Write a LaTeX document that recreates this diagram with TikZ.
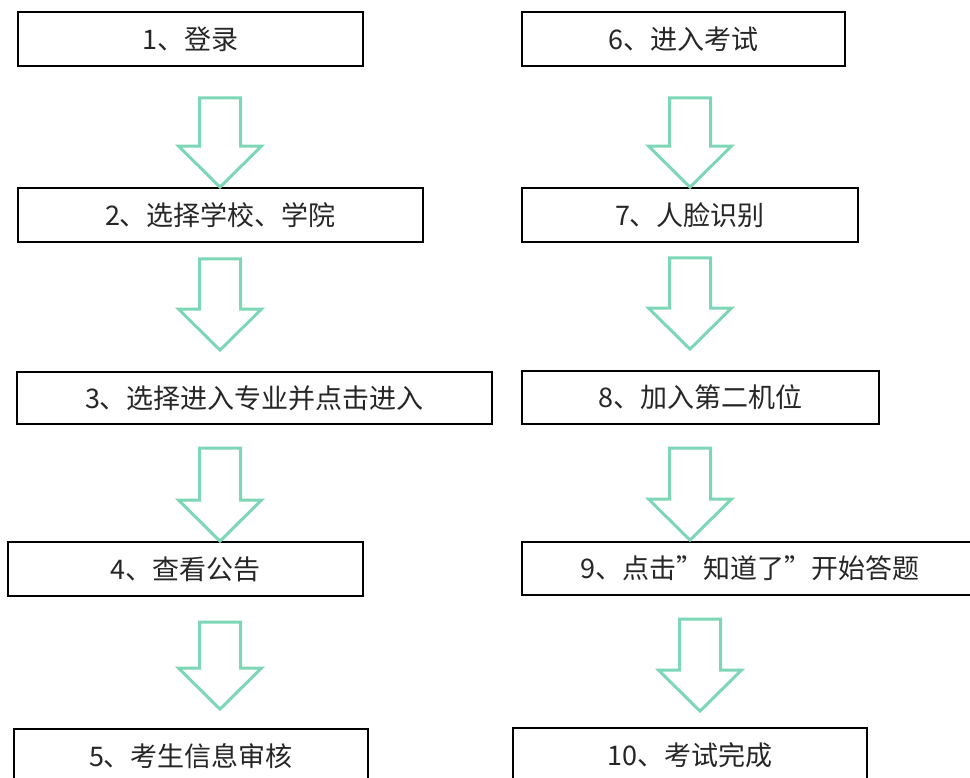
\documentclass[tikz,border=0pt]{standalone}
\usepackage{fontspec}
\newfontfamily\cjk{Noto Sans CJK SC}
\usetikzlibrary{calc}

\definecolor{mint}{RGB}{125,215,182}

\tikzset{
  stepbox/.style={draw=black, line width=1.8pt, fill=white, inner sep=0pt,
    minimum height=54pt, text=black!85, font=\cjk\fontsize{27}{30}\selectfont},
  flowarrow/.style={draw=mint, line width=3pt, line join=miter}
}

% hollow down arrow: start point, tip (only its y is used)
\newcommand{\hollowarrow}[2]{%
  \draw[flowarrow] let \p1=(#1), \p2=(#2) in
    (\x1-20.5pt,\y1) -- (\x1+20.5pt,\y1) -- (\x1+20.5pt,\y2+41pt)
    -- (\x1+41.5pt,\y2+41pt) -- (\x1,\y2) -- (\x1-41.5pt,\y2+41pt)
    -- (\x1-20.5pt,\y2+41pt) -- cycle;}

\begin{document}
\begin{tikzpicture}[x=1pt, y=-1pt]
    \useasboundingbox (0,0) rectangle (970,778);

    % Nodes, left column
    \node[stepbox, minimum width=345pt] at (190.5, 39) (login) {1、登录};
    \node[stepbox, minimum width=405pt] at (220.5, 215) (school) {2、选择学校、学院};
    \node[stepbox, minimum width=475pt, minimum height=52pt] at (254.5, 398) (major) {3、选择进入专业并点击进入};
    \node[stepbox, minimum width=355pt] at (185.5, 569) (notice) {4、查看公告};
    \node[stepbox, minimum width=354pt] at (191, 756) (check) {5、考生信息审核};

    % Nodes, right column
    \node[stepbox, minimum width=323pt] at (683.5, 39) (enter) {6、进入考试};
    \node[stepbox, minimum width=336pt] at (690, 215) (face) {7、人脸识别};
    \node[stepbox, minimum width=357pt, minimum height=53pt] at (700.5, 397.5) (camera) {8、加入第二机位};
    \node[stepbox, minimum width=456pt, minimum height=53pt] at (750, 568.5) (answer) {9、点击”知道了”开始答题};
    \node[stepbox, minimum width=354pt] at (690, 755) (done) {10、考试完成};

    % arrow tails
    \coordinate (a1) at (220, 98);
    \coordinate (a2) at (220, 259);
    \coordinate (a3) at (220, 448);
    \coordinate (a4) at (220, 622);
    \coordinate (a6) at (690, 98);
    \coordinate (a7) at (690, 258);
    \coordinate (a8) at (690, 448);
    \coordinate (a9) at (700, 619);

    \hollowarrow{a1}{school.north};
    \hollowarrow{a2}{[yshift=21pt]major.north};
    \hollowarrow{a3}{notice.north};
    \hollowarrow{a4}{[yshift=19pt]check.north};
    \hollowarrow{a6}{face.north};
    \hollowarrow{a7}{[yshift=21pt]camera.north};
    \hollowarrow{a8}{[yshift=1pt]answer.north};
    \hollowarrow{a9}{[yshift=16pt]done.north};

  \end{tikzpicture}
\end{document}
